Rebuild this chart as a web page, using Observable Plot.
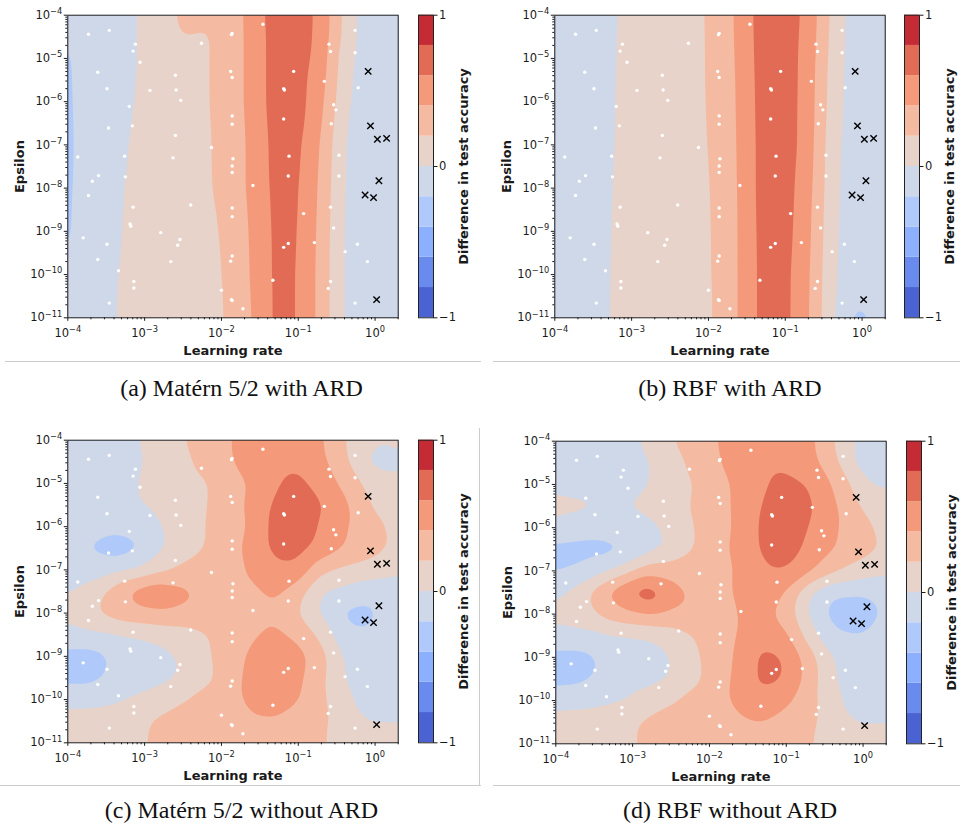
<!DOCTYPE html>
<html>
<head>
<meta charset="utf-8">
<script src="https://cdn.jsdelivr.net/npm/d3@7"></script>
<script src="https://cdn.jsdelivr.net/npm/@observablehq/plot@0.6"></script>
<style>
  body { margin: 0; background: #fff; }
  #fig { position: relative; width: 960px; height: 824px; overflow: hidden; background: #fff; }
  #fig svg { position: absolute; overflow: visible; }
  .cap { position: absolute; font-family: "Liberation Serif", "Times New Roman", serif; font-size: 24px;
         line-height: 24px; white-space: nowrap; transform: translateX(-50%); color: #111; }
  .rule { position: absolute; background: #cccccc; }
  g[aria-label="x-axis label"] text, g[aria-label="y-axis label"] text { font-weight: bold; font-size: 13px; }
</style>
</head>
<body>
<div id="fig"></div>
<script>
// Contour levels of the difference in test accuracy and their fill colours (coolwarm)
const levels = [-1, -0.8, -0.6, -0.4, -0.2, 0, 0.2, 0.4, 0.6, 0.8, 1];
const bandColors = ["#4a62d2", "#6a8bee", "#8db0fe", "#afc9fa", "#ced8e8",
                    "#e7d3c9", "#f4bba2", "#f49a7b", "#e26b56", "#c52b35"];

// Sampling lattice of the surrogate surface: log10(learning rate) columns
const gridLogLR = [-4, -3.7, -3.4, -3.1, -2.8, -2.5, -2.2, -1.9, -1.6, -1.3, -1.0, -0.7, -0.4, -0.1, 0.1, 0.31];
// log10(epsilon) rows for each panel
const rowsLogEpsA = [-4, -4.5, -5, -6, -7, -8, -9, -10, -11];
const rowsLogEpsB = [-4, -5.5, -7, -8.5, -10, -10.5, -11];
const rowsLogEpsCD = [-4, -4.5, -5, -5.5, -6, -6.5, -7, -7.5, -8, -8.5, -9, -9.5, -10, -10.5, -11];

// (a) Matérn 5/2 with ARD
const surfaceA = [
  [-0.17, -0.10, -0.054, -0.006, 0.093, 0.25, 0.23, 0.28, 0.48, 0.70, 0.70, 0.55, 0.147, -0.12, -0.11, -0.10],
  [-0.205, -0.12, -0.066, -0.004, 0.093, 0.21, 0.18, 0.28, 0.47, 0.69, 0.70, 0.54, 0.14, -0.12, -0.11, -0.10],
  [-0.23, -0.11, -0.074, 0.001, 0.061, 0.122, 0.184, 0.28, 0.47, 0.69, 0.69, 0.52, 0.08, -0.12, -0.11, -0.10],
  [-0.235, -0.11, -0.066, 0.01, 0.067, 0.125, 0.183, 0.28, 0.47, 0.69, 0.68, 0.46, 0.04, -0.12, -0.11, -0.10],
  [-0.24, -0.11, -0.045, 0.025, 0.076, 0.126, 0.176, 0.27, 0.45, 0.67, 0.65, 0.39, -0.01, -0.11, -0.11, -0.10],
  [-0.235, -0.11, -0.027, 0.034, 0.08, 0.126, 0.172, 0.27, 0.45, 0.66, 0.63, 0.36, -0.02, -0.11, -0.11, -0.10],
  [-0.23, -0.11, -0.018, 0.036, 0.08, 0.124, 0.158, 0.235, 0.43, 0.65, 0.62, 0.34, -0.03, -0.11, -0.11, -0.10],
  [-0.20, -0.079, -0.007, 0.038, 0.08, 0.122, 0.15, 0.22, 0.42, 0.65, 0.61, 0.33, -0.03, -0.11, -0.11, -0.10],
  [-0.13, -0.062, -0.004, 0.038, 0.076, 0.114, 0.15, 0.21, 0.40, 0.65, 0.61, 0.33, -0.03, -0.11, -0.11, -0.10]
];

// (b) RBF with ARD
const surfaceB = [
  [-0.12, -0.077, -0.033, 0.012, 0.064, 0.116, 0.16, 0.24, 0.45, 0.70, 0.70, 0.55, 0.16, -0.11, -0.12, -0.11],
  [-0.12, -0.075, -0.030, 0.016, 0.068, 0.12, 0.16, 0.235, 0.43, 0.69, 0.70, 0.52, 0.12, -0.11, -0.12, -0.11],
  [-0.12, -0.074, -0.028, 0.019, 0.07, 0.12, 0.155, 0.225, 0.42, 0.68, 0.70, 0.51, 0.08, -0.11, -0.12, -0.11],
  [-0.12, -0.070, -0.022, 0.024, 0.07, 0.115, 0.15, 0.21, 0.41, 0.68, 0.68, 0.47, 0.06, -0.12, -0.13, -0.12],
  [-0.12, -0.069, -0.019, 0.027, 0.071, 0.114, 0.15, 0.205, 0.41, 0.67, 0.66, 0.44, 0.04, -0.13, -0.14, -0.12],
  [-0.12, -0.069, -0.018, 0.027, 0.07, 0.113, 0.15, 0.2, 0.41, 0.67, 0.66, 0.435, 0.035, -0.17, -0.15, -0.12],
  [-0.12, -0.069, -0.017, 0.027, 0.07, 0.113, 0.15, 0.2, 0.41, 0.67, 0.66, 0.43, 0.03, -0.27, -0.20, -0.12]
];

// (c) Matérn 5/2 without ARD
const surfaceC = [
  [-0.10, -0.10, -0.08, -0.01, 0.08, 0.19, 0.30, 0.39, 0.48, 0.50, 0.50, 0.43, 0.21, 0.05, 0.01, 0.03],
  [-0.12, -0.12, -0.09, -0.03, 0.07, 0.15, 0.27, 0.38, 0.50, 0.55, 0.57, 0.45, 0.25, -0.02, -0.07, -0.02],
  [0.00, -0.05, -0.07, 0.00, 0.06, 0.12, 0.18, 0.32, 0.42, 0.58, 0.65, 0.52, 0.35, 0.15, 0.08, 0.05],
  [0.01, 0.00, -0.04, -0.01, 0.05, 0.10, 0.19, 0.32, 0.45, 0.64, 0.72, 0.62, 0.45, 0.22, 0.12, 0.08],
  [-0.10, -0.12, -0.15, -0.14, -0.01, 0.10, 0.20, 0.33, 0.42, 0.68, 0.73, 0.58, 0.42, 0.30, 0.22, 0.12],
  [-0.12, -0.23, -0.32, -0.24, -0.03, 0.10, 0.20, 0.35, 0.45, 0.67, 0.68, 0.53, 0.40, 0.30, 0.22, 0.15],
  [-0.07, -0.10, -0.06, 0.00, 0.15, 0.25, 0.30, 0.35, 0.42, 0.55, 0.55, 0.25, 0.15, 0.10, 0.08, 0.04],
  [-0.02, 0.10, 0.30, 0.50, 0.57, 0.47, 0.33, 0.35, 0.36, 0.44, 0.28, 0.00, -0.05, -0.12, -0.12, -0.10],
  [0.05, 0.18, 0.30, 0.36, 0.38, 0.34, 0.30, 0.32, 0.35, 0.38, 0.20, -0.03, -0.24, -0.26, -0.15, -0.10],
  [-0.06, -0.03, -0.02, 0.01, 0.06, 0.10, 0.18, 0.30, 0.37, 0.45, 0.35, 0.15, -0.15, -0.18, -0.12, -0.10],
  [-0.27, -0.29, -0.17, -0.10, -0.06, 0.02, 0.17, 0.30, 0.45, 0.55, 0.48, 0.28, -0.03, -0.10, -0.10, -0.08],
  [-0.27, -0.27, -0.15, -0.10, -0.06, 0.02, 0.15, 0.30, 0.48, 0.55, 0.45, 0.25, -0.01, -0.10, -0.10, -0.08],
  [-0.04, -0.05, -0.03, 0.03, 0.10, 0.19, 0.28, 0.33, 0.45, 0.50, 0.42, 0.25, 0.05, -0.08, -0.10, -0.08],
  [0.05, 0.07, 0.10, 0.16, 0.24, 0.30, 0.32, 0.35, 0.38, 0.38, 0.30, 0.25, 0.10, 0.00, 0.00, 0.00],
  [0.08, 0.10, 0.12, 0.18, 0.23, 0.28, 0.30, 0.32, 0.33, 0.32, 0.28, 0.22, 0.15, 0.08, 0.06, 0.06]
];

// (d) RBF without ARD
const surfaceD = [
  [-0.12, -0.12, -0.10, -0.05, 0.03, 0.19, 0.30, 0.40, 0.50, 0.52, 0.52, 0.46, 0.22, -0.01, -0.08, -0.08],
  [-0.14, -0.15, -0.13, -0.08, -0.02, 0.12, 0.25, 0.38, 0.50, 0.57, 0.57, 0.48, 0.28, -0.03, -0.10, -0.10],
  [-0.02, -0.06, -0.08, -0.07, -0.01, 0.10, 0.20, 0.33, 0.45, 0.58, 0.65, 0.60, 0.40, 0.15, -0.01, -0.02],
  [0.04, 0.04, 0.00, 0.00, 0.05, 0.12, 0.22, 0.33, 0.45, 0.62, 0.72, 0.64, 0.45, 0.24, 0.12, 0.08],
  [-0.02, -0.08, -0.12, -0.10, -0.06, 0.05, 0.20, 0.33, 0.44, 0.65, 0.72, 0.60, 0.44, 0.30, 0.22, 0.12],
  [-0.27, -0.28, -0.27, -0.22, -0.08, 0.02, 0.20, 0.35, 0.45, 0.64, 0.70, 0.55, 0.42, 0.30, 0.24, 0.16],
  [-0.22, -0.17, -0.06, 0.12, 0.33, 0.32, 0.30, 0.35, 0.42, 0.58, 0.60, 0.45, 0.25, 0.12, 0.08, 0.04],
  [-0.04, 0.10, 0.38, 0.60, 0.77, 0.52, 0.35, 0.36, 0.42, 0.53, 0.38, 0.00, -0.19, -0.20, -0.18, -0.12],
  [0.04, 0.10, 0.25, 0.36, 0.42, 0.35, 0.32, 0.34, 0.41, 0.46, 0.32, -0.03, -0.27, -0.30, -0.26, -0.15],
  [-0.04, -0.05, -0.04, -0.02, 0.00, 0.08, 0.20, 0.30, 0.42, 0.53, 0.45, 0.10, -0.16, -0.20, -0.17, -0.12],
  [-0.28, -0.28, -0.18, -0.10, -0.07, -0.01, 0.16, 0.30, 0.45, 0.66, 0.60, 0.30, 0.00, -0.10, -0.10, -0.08],
  [-0.28, -0.26, -0.16, -0.10, -0.06, 0.00, 0.15, 0.30, 0.47, 0.66, 0.60, 0.32, 0.02, -0.10, -0.10, -0.08],
  [-0.05, -0.05, -0.04, 0.00, 0.10, 0.18, 0.28, 0.34, 0.45, 0.52, 0.45, 0.28, 0.06, -0.08, -0.10, -0.08],
  [0.05, 0.07, 0.10, 0.16, 0.24, 0.30, 0.32, 0.35, 0.38, 0.40, 0.32, 0.25, 0.10, 0.00, 0.00, 0.00],
  [0.08, 0.10, 0.12, 0.17, 0.23, 0.28, 0.30, 0.32, 0.34, 0.32, 0.28, 0.22, 0.12, 0.08, 0.06, 0.06]
];

// Evaluated hyperparameter settings (log10 values)
const sampleLogLR = [-3.73, -3.46, -3.12, -3.15, -3.06, -3.61, -3.49, -3.20, -3.47, -3.16, -3.87, -3.26, -3.25, -3.60,
  -3.68, -3.73, -3.15, -3.19, -3.18, -3.80, -3.49, -3.61, -3.34, -3.14, -3.14, -3.46, -2.79, -2.93, -2.60, -2.59,
  -2.53, -2.60, -2.63, -2.40, -2.54, -2.57, -2.66, -2.26, -2.13, -1.86, -1.87, -1.88, -1.86, -1.86, -1.86, -1.85,
  -1.86, -1.86, -1.86, -1.86, -1.86, -1.88, -2.00, -1.87, -1.86, -1.72, -1.59, -1.46, -1.33, -1.19, -1.18, -1.19,
  -1.12, -1.13, -1.06, -0.93, -1.13, -1.19, -0.79, -0.66, -0.60, -0.58, -0.54, -0.51, -0.57, -0.47, -0.47, -0.58,
  -0.54, -0.39, -0.58, -0.61, -0.26, -0.26, -0.22, -0.23, -0.10, -0.26];
const sampleLogEps = [-4.44, -4.35, -4.67, -4.83, -5.09, -5.32, -5.70, -6.11, -6.61, -6.56, -7.28, -7.26, -7.74, -7.71,
  -7.84, -8.17, -8.44, -8.83, -8.88, -9.15, -9.30, -9.65, -9.91, -10.16, -10.31, -10.66, -9.03, -5.74, -5.39, -5.73,
  -5.97, -6.78, -7.30, -8.39, -9.19, -9.32, -9.70, -4.65, -7.06, -4.42, -4.45, -5.30, -5.44, -6.33, -6.52, -7.32,
  -7.49, -7.64, -8.46, -8.66, -9.57, -9.69, -10.36, -10.58, -10.60, -10.79, -7.94, -4.21, -10.13, -5.70, -5.73, -6.40,
  -7.26, -7.72, -5.30, -8.59, -9.28, -9.37, -9.26, -5.53, -4.67, -4.84, -6.07, -6.19, -6.51, -7.24, -7.72, -8.44,
  -8.92, -9.47, -10.16, -10.32, -4.35, -4.87, -5.68, -9.30, -9.70, -10.66];
// Settings marked with a cross
const crossLogLR = [-0.09, -0.06, 0.03, 0.15, 0.05, -0.13, -0.02, 0.02];
const crossLogEps = [-5.30, -6.56, -6.87, -6.85, -7.83, -8.16, -8.22, -10.58];

// Axis ticks (powers of ten) and colorbar ticks
const xTickExps = [-4, -3, -2, -1, 0];
const yTickExps = [-11, -10, -9, -8, -7, -6, -5, -4];
const cbarTicks = [-1, 0, 1];
const captions = ["(a) Matérn 5/2 with ARD", "(b) RBF with ARD", "(c) Matérn 5/2 without ARD", "(d) RBF without ARD"];

const lrDomain = [1e-4, 2];
const epsDomain = [1e-11, 1e-4];
const thresholds = levels.slice(0, -1);
const colorScale = {type: "ordinal", domain: thresholds, range: bandColors};
const fontStyle = {fontFamily: "DejaVu Sans, sans-serif", fontSize: "11.5px", color: "#1a1a1a", background: "transparent"};

const samples = sampleLogLR.map((e, i) => ({lr: 10 ** e, eps: 10 ** sampleLogEps[i]}));
const crosses = crossLogLR.map((e, i) => ({lr: 10 ** e, eps: 10 ** crossLogEps[i]}));
const majorX = xTickExps.map((e) => 10 ** e);
const majorY = yTickExps.map((e) => 10 ** e);
const isMajor = (t) => Math.abs(Math.log10(t) - Math.round(Math.log10(t))) < 1e-6;
const minorX = d3.scaleLog().domain(lrDomain).ticks().filter((t) => !isMajor(t));
const minorY = d3.scaleLog().domain(epsDomain).ticks().filter((t) => !isMajor(t));
const pow10 = (d) => "10^" + String(Math.round(Math.log10(d))).replace("-", "\u2212");

// Render "10^k" tick labels with a raised exponent
function superscriptTicks(svg) {
  svg.querySelectorAll("text").forEach((t) => {
    const m = /^10\^(.+)$/.exec(t.textContent);
    if (!m) return;
    t.textContent = "10";
    const sup = document.createElementNS("http://www.w3.org/2000/svg", "tspan");
    sup.setAttribute("dy", "-0.6em");
    sup.setAttribute("font-size", "0.72em");
    sup.textContent = m[1];
    t.appendChild(sup);
  });
}

function contourPanel(rows, surface) {
  const lattice = rows.flatMap((ly, i) => gridLogLR.map((lx, j) => ({lr: 10 ** lx, eps: 10 ** ly, diff: surface[i][j]})));
  const svg = Plot.plot({
    width: 400, height: 360,
    marginLeft: 67.3, marginRight: 2.3, marginTop: 14.7, marginBottom: 42.7,
    style: fontStyle,
    x: {type: "log", domain: lrDomain},
    y: {type: "log", domain: epsDomain},
    color: colorScale,
    marks: [
      Plot.contour(lattice, {x: "lr", y: "eps", fill: "diff", thresholds, interpolate: "barycentric", blur: 3, pixelSize: 2}),
      Plot.dot(samples, {x: "lr", y: "eps", r: 1.7, fill: "white"}),
      Plot.dot(crosses, {x: "lr", y: "eps", r: 3, symbol: "times", stroke: "black", strokeWidth: 1.4}),
      Plot.frame({stroke: "#222", strokeWidth: 1}),
      Plot.axisX(minorX, {tickSize: 2, tickFormat: () => "", label: null}),
      Plot.axisX(majorX, {tickSize: 3.5, tickPadding: 7.5, tickFormat: pow10, label: "Learning rate",
        labelAnchor: "center", labelArrow: "none", labelOffset: 37}),
      Plot.axisY(minorY, {tickSize: 2, tickFormat: () => "", label: null}),
      Plot.axisY(majorY, {tickSize: 3.5, tickPadding: 2, tickFormat: pow10, label: "Epsilon",
        labelAnchor: "center", labelArrow: "none", labelOffset: 53})
    ]
  });
  superscriptTicks(svg);
  return svg;
}

function colorbar() {
  const bands = thresholds.map((lo, i) => ({lo, hi: levels[i + 1]}));
  return Plot.plot({
    width: 80, height: 360,
    marginLeft: 10, marginRight: 55, marginTop: 14.7, marginBottom: 42.7,
    style: fontStyle,
    y: {domain: [-1, 1]},
    color: colorScale,
    marks: [
      Plot.rect(bands, {y1: "lo", y2: "hi", fill: "lo"}),
      Plot.frame({stroke: "#222", strokeWidth: 1}),
      Plot.axisY(cbarTicks, {anchor: "right", tickSize: 3.5, tickPadding: 2,
        tickFormat: (d) => (d < 0 ? "\u2212" + Math.abs(d) : String(d)),
        label: "Difference in test accuracy", labelAnchor: "center", labelArrow: "none", labelOffset: 34})
    ]
  });
}

const fig = document.getElementById("fig");
const panels = [
  {rows: rowsLogEpsA, surface: surfaceA, left: 0, top: 0, capX: 241.5, capY: 376},
  {rows: rowsLogEpsB, surface: surfaceB, left: 486.7, top: 0.3, capX: 730, capY: 376},
  {rows: rowsLogEpsCD, surface: surfaceC, left: 0, top: 425, capX: 241.5, capY: 798},
  {rows: rowsLogEpsCD, surface: surfaceD, left: 488, top: 426.3, capX: 730, capY: 798}
];
panels.forEach((p, i) => {
  const main = contourPanel(p.rows, p.surface);
  main.style.left = p.left + "px";
  main.style.top = p.top + "px";
  fig.appendChild(main);
  const cb = colorbar();
  cb.style.left = (p.left + 407.7) + "px";
  cb.style.top = p.top + "px";
  fig.appendChild(cb);
  const cap = document.createElement("div");
  cap.className = "cap";
  cap.style.left = p.capX + "px";
  cap.style.top = p.capY + "px";
  cap.textContent = captions[i];
  fig.appendChild(cap);
});

// Thin separators between the sub-figures
[[5, 360.5, 476, 1], [493, 360.5, 467, 1], [0, 784.5, 481, 1], [493, 784.5, 467, 1], [479, 428, 1, 357]]
  .forEach(([x, y, w, h]) => {
    const r = document.createElement("div");
    r.className = "rule";
    Object.assign(r.style, {left: x + "px", top: y + "px", width: w + "px", height: h + "px"});
    fig.appendChild(r);
  });
</script>
</body>
</html>
